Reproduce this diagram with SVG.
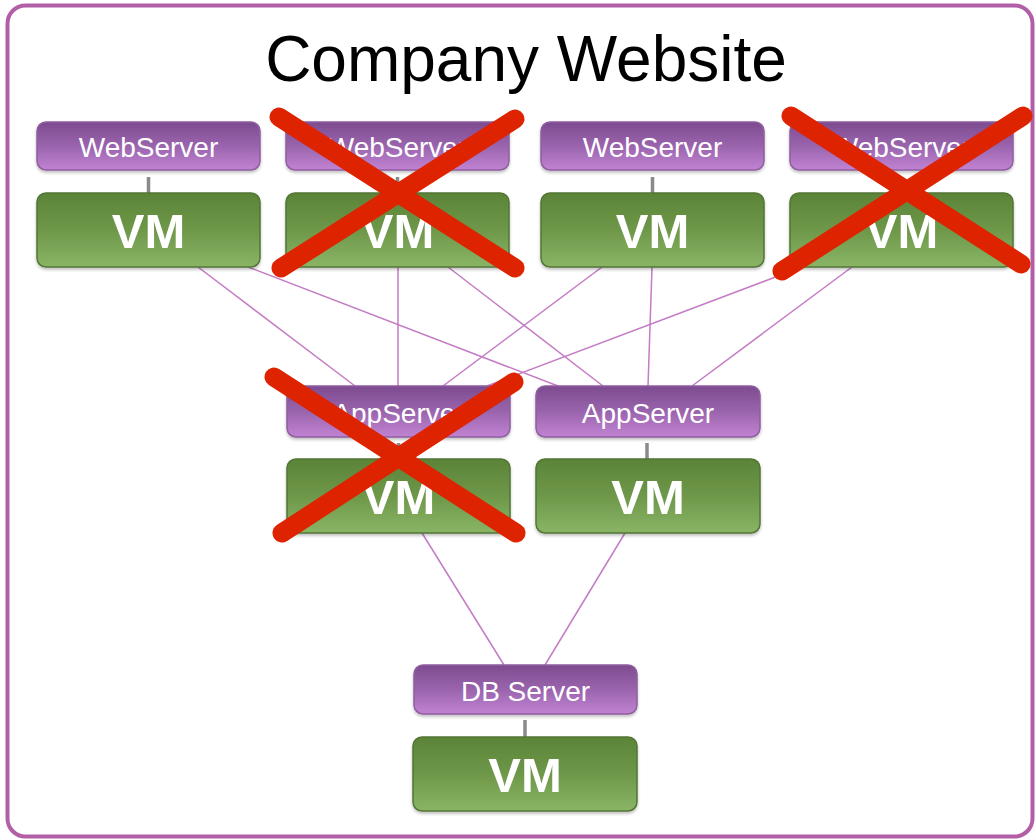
<svg xmlns="http://www.w3.org/2000/svg" width="1035" height="840" viewBox="0 0 1035 840">
<defs>
<linearGradient id="gp" x1="0" y1="0" x2="0" y2="1">
<stop offset="0" stop-color="#7d4b8f"/>
<stop offset="0.5" stop-color="#9a64ad"/>
<stop offset="1" stop-color="#c183d3"/>
</linearGradient>
<linearGradient id="gg" x1="0" y1="0" x2="0" y2="1">
<stop offset="0" stop-color="#5b8438"/>
<stop offset="0.5" stop-color="#6e9749"/>
<stop offset="1" stop-color="#8ab566"/>
</linearGradient>
<filter id="sh" x="-10%" y="-10%" width="120%" height="130%">
<feDropShadow dx="0" dy="2" stdDeviation="1.5" flood-color="#000" flood-opacity="0.25"/>
</filter>
<style>
.pill{fill:url(#gp);stroke:#8f5ea0;stroke-width:1.5;filter:url(#sh)}
.vm{fill:url(#gg);stroke:#527636;stroke-width:1.5;filter:url(#sh)}
.stub{stroke:#8a8a8a;stroke-width:3.5}
.lbl{font-family:"Liberation Sans",Arial,sans-serif;font-size:28px;fill:#ffffff;text-anchor:middle}
.vmt{font-family:"Liberation Sans",Arial,sans-serif;font-size:49px;font-weight:bold;fill:#ffffff;text-anchor:middle}
.con line{stroke:#c47cc4;stroke-width:1.5}
.x line{stroke:#de2300;stroke-width:19;stroke-linecap:round}
</style>
</defs>
<rect x="7.5" y="5.5" width="1025" height="831" rx="18" fill="#ffffff" stroke="#b25fa8" stroke-width="4"/>
<text x="526" y="81" font-family="'Liberation Sans',Arial,sans-serif" font-size="64" text-anchor="middle" fill="#000000">Company Website</text>

<g id="connectors" class="con">
<line x1="198" y1="267" x2="355" y2="386"/>
<line x1="248" y1="267" x2="558" y2="386"/>
<line x1="398" y1="267" x2="398" y2="386"/>
<line x1="448" y1="267" x2="603" y2="386"/>
<line x1="602" y1="267" x2="443" y2="386"/>
<line x1="802" y1="267" x2="487" y2="386"/>
<line x1="652" y1="267" x2="648" y2="386"/>
<line x1="852" y1="267" x2="692" y2="386"/>
<line x1="422" y1="533" x2="504" y2="665"/>
<line x1="625" y1="533" x2="545" y2="665"/>
</g>

<g id="web1">
<line class="stub" x1="148.5" y1="177" x2="148.5" y2="193"/>
<rect class="pill" x="37" y="122" width="223" height="48" rx="9"/>
<text class="lbl" x="148.5" y="157">WebServer</text>
<rect class="vm" x="37" y="193" width="223" height="74" rx="9"/>
<text class="vmt" x="148.5" y="248">VM</text>
</g>
<g id="web2">
<line class="stub" x1="397.5" y1="177" x2="397.5" y2="193"/>
<rect class="pill" x="286" y="122" width="223" height="48" rx="9"/>
<text class="lbl" x="397.5" y="157">WebServer</text>
<rect class="vm" x="286" y="193" width="223" height="74" rx="9"/>
<text class="vmt" x="397.5" y="248">VM</text>
</g>
<g id="web3">
<line class="stub" x1="652.5" y1="177" x2="652.5" y2="193"/>
<rect class="pill" x="541" y="122" width="223" height="48" rx="9"/>
<text class="lbl" x="652.5" y="157">WebServer</text>
<rect class="vm" x="541" y="193" width="223" height="74" rx="9"/>
<text class="vmt" x="652.5" y="248">VM</text>
</g>
<g id="web4">
<line class="stub" x1="901.5" y1="177" x2="901.5" y2="193"/>
<rect class="pill" x="790" y="122" width="223" height="48" rx="9"/>
<text class="lbl" x="901.5" y="157">WebServer</text>
<rect class="vm" x="790" y="193" width="223" height="74" rx="9"/>
<text class="vmt" x="901.5" y="248">VM</text>
</g>
<g id="app1">
<line class="stub" x1="398.5" y1="443" x2="398.5" y2="459"/>
<rect class="pill" x="287" y="386" width="223" height="51" rx="9"/>
<text class="lbl" x="398.5" y="423">AppServer</text>
<rect class="vm" x="287" y="459" width="223" height="74" rx="9"/>
<text class="vmt" x="398.5" y="514">VM</text>
</g>
<g id="app2">
<line class="stub" x1="647" y1="443" x2="647" y2="459"/>
<rect class="pill" x="536" y="386" width="224" height="51" rx="9"/>
<text class="lbl" x="648" y="423">AppServer</text>
<rect class="vm" x="536" y="459" width="224" height="74" rx="9"/>
<text class="vmt" x="648" y="514">VM</text>
</g>
<g id="db">
<line class="stub" x1="525" y1="720" x2="525" y2="737"/>
<rect class="pill" x="414" y="665" width="223" height="49" rx="9"/>
<text class="lbl" x="525.5" y="701">DB Server</text>
<rect class="vm" x="413" y="737" width="224" height="74" rx="9"/>
<text class="vmt" x="525" y="792">VM</text>
</g>

<g id="cross1" class="x">
<line x1="279" y1="117" x2="515" y2="268"/>
<line x1="515" y1="119" x2="281" y2="268"/>
</g>
<g id="cross2" class="x">
<line x1="791" y1="116" x2="1021" y2="264"/>
<line x1="1023" y1="116" x2="782" y2="271"/>
</g>
<g id="cross3" class="x">
<line x1="274" y1="377" x2="516" y2="533"/>
<line x1="514" y1="382" x2="282" y2="533"/>
</g>
</svg>
